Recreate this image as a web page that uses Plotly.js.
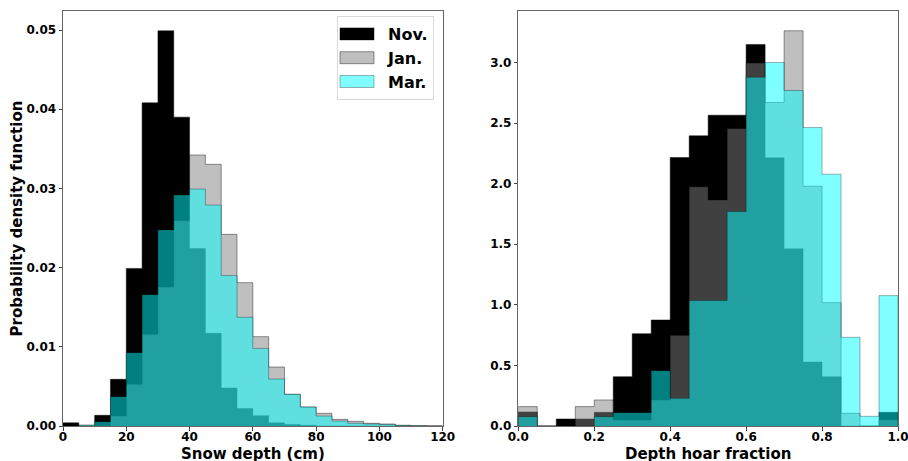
<!DOCTYPE html>
<html>
<head>
<meta charset="utf-8">
<script src="https://cdn.plot.ly/plotly-3.0.1.min.js"></script>
<style>html,body{margin:0;padding:0;background:#fff;}#chart{width:908px;height:461px;}</style>
</head>
<body>
<div id="chart"></div>
<script>
// ---- Data ----
var seriesNames = ["Nov.", "Jan.", "Mar."];

// Snow depth histogram: bin edges (cm) and densities
var depthEdges = [0,5,10,15,20,25,30,35,40,45,50,55,60,65,70,75,80,85,90,95,100,105,110,115,120];
var depthNov = [0.0004,0.0000,0.00135,0.0059,0.0199,0.0408,0.0499,0.0390,0.0224,0.0117,0.0048,0.0022,0.0013,0.0004,0.0002,0.0001,0,0,0,0,0,0,0,0];
var depthJan = [0.0000,0.0001,0.0000,0.00126,0.00526,0.01157,0.01755,0.02593,0.03422,0.03304,0.0242,0.0181,0.01128,0.00745,0.0040,0.0024,0.0016,0.00084,0.00059,0.00034,0.00025,0.0001,0.00003,0];
var depthMar = [0.0000,0.0001,0.00055,0.0037,0.00926,0.01658,0.02475,0.02917,0.02992,0.0279,0.0190,0.01372,0.0098,0.00593,0.0040,0.0024,0.00126,0.00063,0.00034,0.00025,0.0002,0.00005,0.00002,0];

// Depth hoar fraction histogram: bin edges and densities
var hoarEdges = [0,0.05,0.1,0.15,0.2,0.25,0.3,0.35,0.4,0.45,0.5,0.55,0.6,0.65,0.7,0.75,0.8,0.85,0.9,0.95,1.0];
var hoarNov = [0.116,0,0.058,0.058,0.113,0.407,0.762,0.875,2.216,2.395,2.565,2.565,3.149,2.213,1.462,0.528,0.407,0,0,0.113];
var hoarJan = [0.16,0,0,0.16,0.215,0.05,0.05,0.215,0.749,1.974,1.866,2.455,2.995,2.67,3.262,1.979,1.018,0.105,0,0.052];
var hoarMar = [0.077,0,0,0,0.077,0.11,0.11,0.457,0.228,1.035,1.035,1.77,2.879,3.0,2.769,2.463,2.078,0.732,0.08,1.076];

// Tick labels and axis titles
var depthTicks = [0,20,40,60,80,100,120];
var depthYTicks = [0,0.01,0.02,0.03,0.04,0.05];
var depthYTickText = ["0.00","0.01","0.02","0.03","0.04","0.05"];
var hoarTicks = [0,0.2,0.4,0.6,0.8,1.0];
var hoarTickText = ["0.0","0.2","0.4","0.6","0.8","1.0"];
var hoarYTicks = [0,0.5,1.0,1.5,2.0,2.5,3.0];
var hoarYTickText = ["0.0","0.5","1.0","1.5","2.0","2.5","3.0"];
var depthXTitle = "Snow depth (cm)";
var hoarXTitle = "Depth hoar fraction";
var yTitle = "Probability density function";

// ---- Styling ----
var fillColors = ["rgb(0,0,0)", "rgba(128,128,128,0.5)", "rgba(0,255,255,0.5)"];
var edgeColors = ["rgba(0,0,0,0.45)", "rgba(0,0,0,0.4)", "rgba(0,0,0,0.3)"];
var FONT = "DejaVu Sans, sans-serif";

// Build a stepfilled outline (like matplotlib histtype='stepfilled')
function stepTrace(edges, vals, idx, xa, ya, showLegend) {
  var xs = [edges[0]];
  var ys = [0];
  for (var i = 0; i < vals.length; i++) { xs.push(edges[i]); ys.push(vals[i]); }
  xs.push(edges[edges.length - 1]); ys.push(0);
  return {
    type: "scatter", mode: "lines", x: xs, y: ys,
    xaxis: xa, yaxis: ya,
    line: {shape: "hv", color: edgeColors[idx], width: 1},
    fill: "tozeroy", fillcolor: fillColors[idx],
    name: seriesNames[idx], showlegend: showLegend, legendgroup: seriesNames[idx],
    hoverinfo: "skip"
  };
}

var traces = [
  stepTrace(depthEdges, depthNov, 0, "x", "y", true),
  stepTrace(depthEdges, depthJan, 1, "x", "y", true),
  stepTrace(depthEdges, depthMar, 2, "x", "y", true),
  stepTrace(hoarEdges, hoarNov, 0, "x2", "y2", false),
  stepTrace(hoarEdges, hoarJan, 1, "x2", "y2", false),
  stepTrace(hoarEdges, hoarMar, 2, "x2", "y2", false)
];

// Plot area in pixels: x 63..898, y 11..426
var W = 908, H = 461, ML = 63, MR = 10, MT = 11, MB = 35;
var PW = W - ML - MR, PH = H - MT - MB;
function px(x) { return (x - ML) / PW; }
function py(y) { return (H - MB - y) / PH; }

var tickFont = {family: FONT, size: 12, color: "#000", weight: "bold"};
var titleFont = {family: FONT, size: 15, color: "#000", weight: "bold"};
var axisCommon = {
  showline: true, mirror: true, linecolor: "#666", linewidth: 1,
  ticks: "outside", ticklen: 3.5, tickwidth: 1, tickcolor: "#444",
  showgrid: false, zeroline: false, automargin: false,
  ticklabeloverflow: "allow",
  tickfont: tickFont, fixedrange: true
};

var layout = {
  width: W, height: H,
  margin: {l: ML, r: MR, t: MT, b: MB},
  paper_bgcolor: "#fff", plot_bgcolor: "#fff",
  showlegend: true,
  xaxis: Object.assign({}, axisCommon, {
    domain: [0, px(442.7)], range: [0, 120],
    tickvals: depthTicks, ticktext: depthTicks.map(String),
    ticklabelstandoff: -4,
    anchor: "y"
  }),
  yaxis: Object.assign({}, axisCommon, {
    domain: [0, 1], range: [0, 0.0524],
    tickvals: depthYTicks, ticktext: depthYTickText,
    automargin: true,
    title: {text: yTitle, font: titleFont, standoff: 0},
    anchor: "x"
  }),
  xaxis2: Object.assign({}, axisCommon, {
    domain: [px(518.3), 1], range: [0, 1],
    tickvals: hoarTicks, ticktext: hoarTickText,
    ticklabelstandoff: -4,
    anchor: "y2"
  }),
  yaxis2: Object.assign({}, axisCommon, {
    domain: [0, 1], range: [0, 3.425],
    tickvals: hoarYTicks, ticktext: hoarYTickText,
    anchor: "x2"
  }),
  annotations: [
    {text: depthXTitle, xref: "paper", yref: "paper", x: px(253), y: py(453.5),
     xanchor: "center", yanchor: "middle", showarrow: false, font: titleFont},
    {text: hoarXTitle, xref: "paper", yref: "paper", x: px(708), y: py(453.5),
     xanchor: "center", yanchor: "middle", showarrow: false, font: titleFont}
  ],
  legend: {
    x: px(434), y: py(16), xanchor: "right", yanchor: "top",
    bgcolor: "rgba(255,255,255,0.8)", bordercolor: "#d9d9d9", borderwidth: 1,
    font: {family: FONT, size: 16, color: "#000", weight: "bold"},
    itemwidth: 40, tracegroupgap: 0
  }
};

Plotly.newPlot("chart", traces, layout, {displayModeBar: false, staticPlot: true}).then(function (gd) {
  // Make legend handles look like matplotlib rectangular patches
  var items = gd.querySelectorAll(".legend .traces");
  items.forEach(function (item) {
    var f = item.querySelector(".legendfill path");
    var l = item.querySelector(".legendlines path");
    var d = "M2,-6h34v12h-34z";
    if (f) f.setAttribute("d", d);
    if (l) l.setAttribute("d", d);
  });
});
</script>
</body>
</html>
